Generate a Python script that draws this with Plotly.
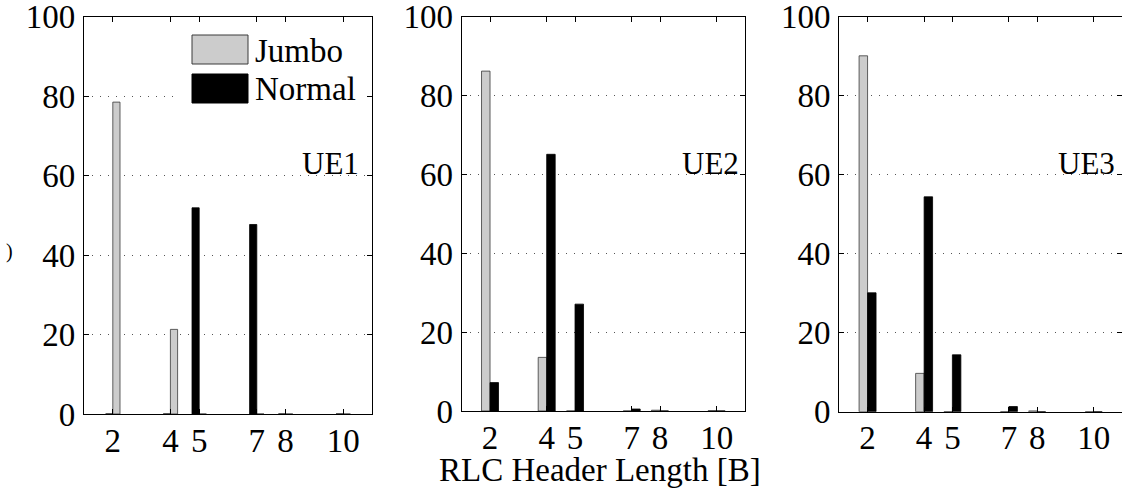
import plotly.graph_objects as go

# Header lengths on the x axis
header_len = [2, 4, 5, 7, 8, 10]
x_ticks = [2, 4, 5, 7, 8, 10]
y_ticks = [0, 20, 40, 60, 80, 100]

# Share of packets (%) per header length, per UE
ue1_jumbo = [78.5, 21.3, 0, 0, 0, 0]
ue1_normal = [0, 0, 51.9, 47.7, 0, 0]
ue2_jumbo = [86.2, 13.6, 0, 0, 0.2, 0.1]
ue2_normal = [7.2, 65.1, 27.1, 0.5, 0, 0]
ue3_jumbo = [90.1, 9.7, 0, 0, 0.2, 0]
ue3_normal = [30.1, 54.4, 14.4, 1.3, 0, 0]

ue_names = ["UE1", "UE2", "UE3"]

W, H = 1122, 489
FONT = "Liberation Serif, Times New Roman, serif"
JUMBO_FILL = "#cccccc"
JUMBO_EDGE = "#3a3a3a"


def px_x(p):
    return p / W


def px_y(p):
    return (H - p) / H


# panel boxes in pixels: (left, right, top, bottom)
panels = [
    (84, 372, 16.7, 414.0),
    (461.7, 745.0, 16.7, 411.0),
    (839.3, 1122.6, 16.7, 411.7),
]

# bar placement (left-edge offset, width) for jumbo / normal per panel
placement = [
    ((0.0, 0.25), (-0.25, 0.25)),
    ((-0.3, 0.3), (0.0, 0.3)),
    ((-0.3, 0.3), (0.0, 0.3)),
]

series = [
    (ue1_jumbo, ue1_normal),
    (ue2_jumbo, ue2_normal),
    (ue3_jumbo, ue3_normal),
]

fig = go.Figure()

for i, ((jumbo, normal), (pj, pn)) in enumerate(zip(series, placement)):
    xa = "x" if i == 0 else f"x{i+1}"
    ya = "y" if i == 0 else f"y{i+1}"
    fig.add_trace(go.Bar(
        x=header_len, y=jumbo, name="Jumbo", offset=pj[0], width=pj[1],
        marker=dict(color=JUMBO_FILL, line=dict(color=JUMBO_EDGE, width=0.8)),
        xaxis=xa, yaxis=ya, showlegend=False,
    ))
    fig.add_trace(go.Bar(
        x=header_len, y=normal, name="Normal", offset=pn[0], width=pn[1],
        marker=dict(color="black", line=dict(color="black", width=0.8)),
        xaxis=xa, yaxis=ya, showlegend=False,
    ))

layout = dict(
    template="none",
    width=W, height=H,
    margin=dict(l=0, r=0, t=0, b=0, autoexpand=False),
    plot_bgcolor="white", paper_bgcolor="white",
    barmode="overlay",
    font=dict(family=FONT, size=33, color="black"),
)

for i, (l, r, t, b) in enumerate(panels):
    sx = "" if i == 0 else str(i + 1)
    layout[f"xaxis{sx}"] = dict(
        domain=[px_x(l), min(px_x(r), 1.0)],
        anchor=f"y{sx}",
        range=[1, 11],
        automargin=False,
        tickmode="array", tickvals=x_ticks, ticktext=[str(v) for v in x_ticks],
        ticks="inside", ticklen=5, tickcolor="black", tickwidth=1,
        showline=True, linecolor="black", linewidth=1.3, mirror="allticks",
        showgrid=False, zeroline=False,
        tickfont=dict(family=FONT, size=33),
        ticklabelstandoff=-3,
    )
    layout[f"yaxis{sx}"] = dict(
        domain=[px_y(b), px_y(t)],
        anchor=f"x{sx}",
        range=[0, 100],
        automargin=False,
        tickmode="array", tickvals=y_ticks, ticktext=[str(v) for v in y_ticks],
        ticks="inside", ticklen=5, tickcolor="black", tickwidth=1,
        showline=True, linecolor="black", linewidth=1.3, mirror="allticks",
        showgrid=True, gridcolor="#555555", gridwidth=1, griddash="1px,7px",
        zeroline=False,
        tickfont=dict(family=FONT, size=33),
        ticklabelstandoff=1,
        ticklabeloverflow="allow",
    )

fig.update_layout(**layout)

shapes = []
annotations = []

# legend inside the first panel
shapes.append(dict(type="rect", xref="paper", yref="paper",
                   x0=px_x(179), x1=px_x(366), y0=px_y(110), y1=px_y(23),
                   fillcolor="white", line=dict(width=0), layer="above"))
shapes.append(dict(type="rect", xref="paper", yref="paper",
                   x0=px_x(192), x1=px_x(248), y0=px_y(64), y1=px_y(35),
                   fillcolor=JUMBO_FILL, line=dict(color=JUMBO_EDGE, width=1),
                   layer="above"))
shapes.append(dict(type="rect", xref="paper", yref="paper",
                   x0=px_x(192), x1=px_x(248), y0=px_y(103), y1=px_y(74),
                   fillcolor="black", line=dict(color="black", width=1),
                   layer="above"))
annotations.append(dict(text="Jumbo", xref="paper", yref="paper",
                        x=px_x(253), y=px_y(51), xanchor="left", yanchor="middle",
                        showarrow=False, font=dict(family=FONT, size=33)))
annotations.append(dict(text="Normal", xref="paper", yref="paper",
                        x=px_x(253), y=px_y(89), xanchor="left", yanchor="middle",
                        showarrow=False, font=dict(family=FONT, size=33)))

# UE labels
ue_right = [361, 741, 1117]
for name, xr in zip(ue_names, ue_right):
    annotations.append(dict(text=name, xref="paper", yref="paper",
                            x=px_x(xr), y=px_y(163), xanchor="right", yanchor="middle",
                            showarrow=False, font=dict(family=FONT, size=31)))

# shared x-axis title
annotations.append(dict(text="RLC Header Length [B]", xref="paper", yref="paper",
                        x=px_x(600), y=px_y(470), xanchor="center", yanchor="middle",
                        showarrow=False, font=dict(family=FONT, size=33)))

# clipped tail of the y-axis title at the left edge
annotations.append(dict(text=")", xref="paper", yref="paper",
                        x=px_x(9), y=px_y(251), xanchor="center", yanchor="middle",
                        showarrow=False, font=dict(family=FONT, size=20)))

fig.update_layout(shapes=shapes, annotations=annotations)

fig.write_html("out.html")
